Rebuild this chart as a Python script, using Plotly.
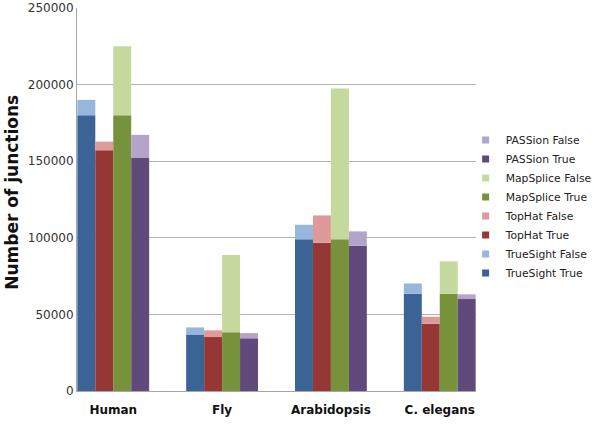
import plotly.graph_objects as go

categories = ["Human", "Fly", "Arabidopsis", "C. elegans"]

truesight_true = [180000, 36800, 99000, 63500]
truesight_false = [10000, 4700, 9500, 6700]
tophat_true = [157200, 35200, 96800, 43900]
tophat_false = [5600, 4400, 17800, 4600]
mapsplice_true = [180000, 38300, 99000, 63500]
mapsplice_false = [45000, 50400, 98400, 21100]
passion_true = [152400, 34400, 94800, 60000]
passion_false = [14800, 3400, 9400, 3100]

y_ticks = [0, 50000, 100000, 150000, 200000, 250000]

tools = [
    ("TrueSight", truesight_true, truesight_false, "#3B6395", "#97B6DC"),
    ("TopHat", tophat_true, tophat_false, "#953735", "#DE9A99"),
    ("MapSplice", mapsplice_true, mapsplice_false, "#76933C", "#C5D89E"),
    ("PASSion", passion_true, passion_false, "#604A7B", "#B4A4CA"),
]

bw = 0.165
fig = go.Figure()
for i, (name, tv, fv, ct, cf) in enumerate(tools):
    off = -2 * bw + i * bw
    fig.add_trace(go.Bar(x=categories, y=tv, offset=off, width=bw,
                         marker=dict(color=ct, line=dict(width=0)),
                         showlegend=False, name=name + " True"))
    fig.add_trace(go.Bar(x=categories, y=fv, base=tv, offset=off, width=bw,
                         marker=dict(color=cf, line=dict(width=0)),
                         showlegend=False, name=name + " False"))

# legend entries (small square swatches), listed top to bottom
for name, tv, fv, ct, cf in reversed(tools):
    for label, col in ((name + " False", cf), (name + " True", ct)):
        fig.add_trace(go.Scatter(x=[None], y=[None], mode="markers", name=label,
                                 marker=dict(symbol="square", size=7, color=col),
                                 showlegend=True))

fig.add_annotation(text="<b>Number of junctions</b>", textangle=-90,
                   xref="paper", yref="paper", x=-0.163, y=0.52,
                   xanchor="center", yanchor="middle", showarrow=False,
                   font=dict(size=17, color="#111111"))

fig.update_layout(
    width=594, height=426,
    margin=dict(l=77, r=118, t=8, b=35, autoexpand=False),
    barmode="overlay",
    plot_bgcolor="white", paper_bgcolor="white",
    font=dict(family="DejaVu Sans", size=12, color="#222222"),
    legend=dict(x=0.974, y=0.693, xanchor="left", yanchor="top",
                traceorder="normal", font=dict(size=10.8, color="#222222"),
                itemwidth=30, tracegroupgap=0, bgcolor="rgba(0,0,0,0)"),
    xaxis=dict(type="category", range=[-0.333, 3.333], showgrid=False,
               showline=True, linecolor="#A6A6A6", linewidth=1,
               ticks="", ticklabelstandoff=8,
               tickfont=dict(size=12, family="DejaVu Sans", color="#111111"),
               tickprefix="<b>", ticksuffix="</b>"),
    yaxis=dict(range=[0, 250000], tickvals=y_ticks,
               ticktext=[str(v) for v in y_ticks],
               showgrid=True, gridcolor="#B3B3B3", gridwidth=1,
               showline=True, linecolor="#A6A6A6", linewidth=1,
               ticks="", zeroline=False,
               tickfont=dict(size=12, color="#333333")),
)

fig.write_html("out.html")
